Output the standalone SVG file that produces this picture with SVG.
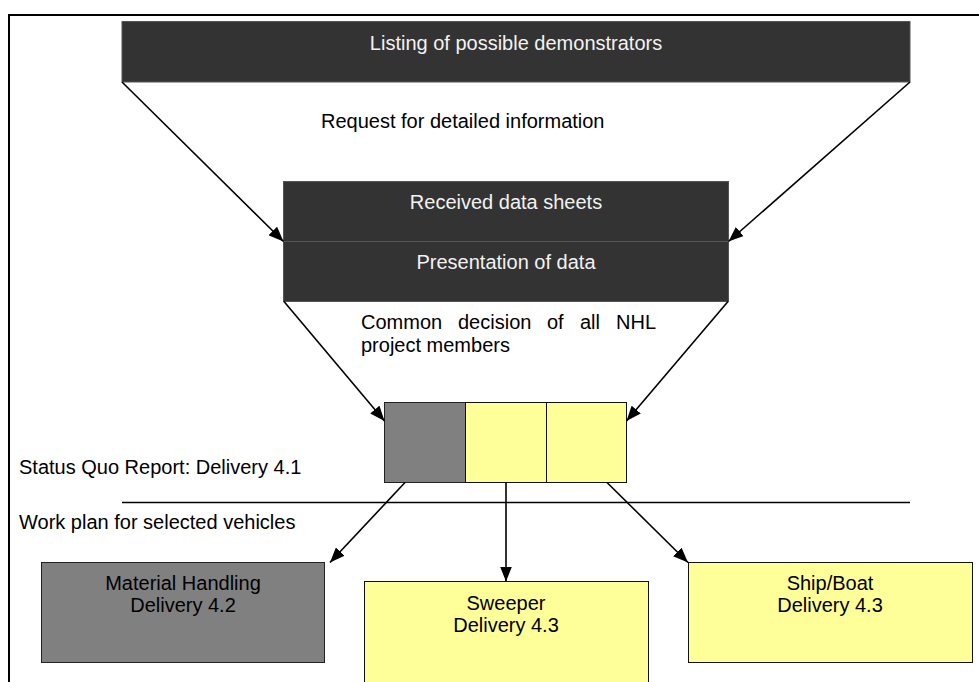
<svg xmlns="http://www.w3.org/2000/svg" width="979" height="682" viewBox="0 0 979 682">
<style>
text{font-family:"Liberation Sans",Arial,sans-serif;font-size:20px;fill:#000}
.w{fill:#f2f2f2}
.c{text-anchor:middle}
.dark{fill:#333;stroke:#555;stroke-width:1}
.grey{fill:#808080;stroke:#222;stroke-width:1}
.yel{fill:#ffff99;stroke:#111;stroke-width:1}
.ln{stroke:#000;stroke-width:1.6;fill:none}
</style>
<defs>
<marker id="ah" markerUnits="userSpaceOnUse" markerWidth="15" markerHeight="12" viewBox="0 0 15 12" refX="15" refY="6" orient="auto">
<path d="M0,0 L15,6 L0,12 z" fill="#000"/>
</marker>
</defs>
<rect width="979" height="682" fill="#fff"/>
<path d="M9,682 V15 H979" fill="none" stroke="#000" stroke-width="2"/>
<g id="listing">
<rect class="dark" x="122" y="21.5" width="788" height="60.5"/>
<text class="w c" x="516" y="50">Listing of possible demonstrators</text>
</g>
<g id="request-label"><text x="321" y="128">Request for detailed information</text></g>
<g id="received">
<rect class="dark" x="283.5" y="181.5" width="445" height="60"/>
<text class="w c" x="506" y="209">Received data sheets</text>
</g>
<g id="presentation">
<rect class="dark" x="283.5" y="241.5" width="445" height="60"/>
<text class="w c" x="506" y="269">Presentation of data</text>
</g>
<g id="decision-label">
<text x="361" y="329">Common</text><text x="458" y="329">decision</text><text x="547" y="329">of</text><text x="580" y="329">all</text><text x="616" y="329">NHL</text>
<text x="361" y="352">project members</text>
</g>
<g id="selection">
<rect class="grey" x="384.5" y="402.5" width="81" height="80"/>
<rect class="yel" x="465.5" y="402.5" width="81" height="80"/>
<rect class="yel" x="546.5" y="402.5" width="80" height="80"/>
</g>
<g id="status-label"><text x="19" y="474">Status Quo Report: Delivery 4.1</text></g>
<line x1="122" y1="502.5" x2="910" y2="502.5" stroke="#000" stroke-width="1.3"/>
<g id="workplan-label"><text x="19" y="529">Work plan for selected vehicles</text></g>
<g id="material">
<rect class="grey" x="41.5" y="562.5" width="283" height="100"/>
<text class="c" x="183" y="590">Material Handling</text>
<text class="c" x="183" y="612">Delivery 4.2</text>
</g>
<g id="sweeper">
<rect class="yel" x="364.5" y="581.5" width="284" height="110"/>
<text class="c" x="506" y="610">Sweeper</text>
<text class="c" x="506" y="632">Delivery 4.3</text>
</g>
<g id="ship">
<rect class="yel" x="688.5" y="562.5" width="284" height="100"/>
<text class="c" x="830" y="590">Ship/Boat</text>
<text class="c" x="830" y="612">Delivery 4.3</text>
</g>
<g id="connectors">
<line class="ln" x1="122" y1="82" x2="283.5" y2="241.5" marker-end="url(#ah)"/>
<line class="ln" x1="910" y1="82" x2="728.5" y2="241.5" marker-end="url(#ah)"/>
<line class="ln" x1="284" y1="301.5" x2="384.5" y2="421" marker-end="url(#ah)"/>
<line class="ln" x1="728" y1="301.5" x2="626.5" y2="421" marker-end="url(#ah)"/>
<line class="ln" x1="405" y1="482.5" x2="330" y2="562.5" marker-end="url(#ah)"/>
<line class="ln" x1="506" y1="482.5" x2="506" y2="581.5" marker-end="url(#ah)"/>
<line class="ln" x1="607" y1="482.5" x2="688" y2="562.5" marker-end="url(#ah)"/>
</g>
</svg>
